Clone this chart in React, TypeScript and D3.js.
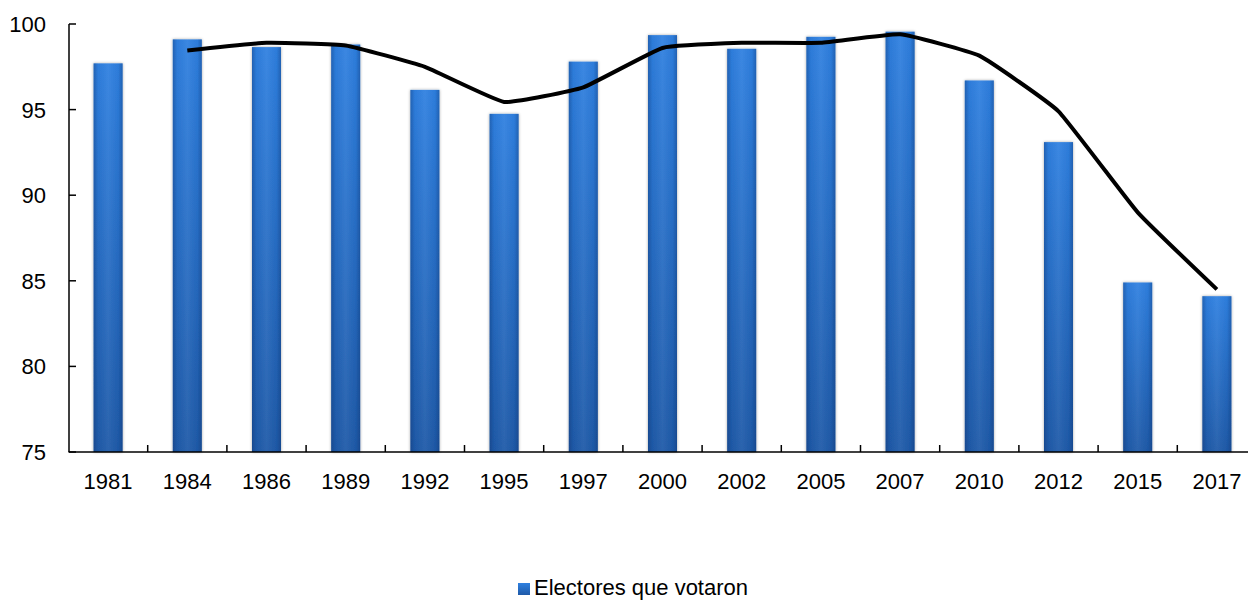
import React from "react";
import * as d3 from "d3";

const years = ["1981","1984","1986","1989","1992","1995","1997","2000","2002","2005","2007","2010","2012","2015","2017"];
const voted = [97.7, 99.1, 98.65, 98.8, 96.15, 94.75, 97.8, 99.35, 98.55, 99.25, 99.55, 96.7, 93.1, 84.9, 84.1];
const trendYears = ["1984","1986","1989","1992","1995","1997","2000","2002","2005","2007","2010","2012","2015","2017"];
const trend = [98.45, 98.9, 98.75, 97.5, 95.45, 96.3, 98.6, 98.9, 98.9, 99.4, 98.15, 94.9, 89.0, 84.5];
const yTicks = [75, 80, 85, 90, 95, 100];
const legendLabel = "Electores que votaron";

export default function App() {
  const W = 1248, H = 601;
  const x = d3.scaleBand<string>().domain(years).range([68.5, 1256.5]).paddingInner(0).paddingOuter(0);
  const y = d3.scaleLinear().domain([75, 100]).range([452, 24]);
  const bw = 29;
  const line = d3.line<number>()
    .x((_, i) => (x(trendYears[i]) as number) + x.bandwidth() / 2)
    .y((d) => y(d))
    .curve(d3.curveCardinal.tension(0.65));
  const font = "'Liberation Sans', Arial, sans-serif";
  return (
    <svg width={W} height={H} style={{ position: "absolute", left: 0, top: 0 }} fontFamily={font}>
      <defs>
        <linearGradient id="gv" x1="0" y1="0" x2="0" y2="1">
          <stop offset="0" stopColor="#2f80e0" />
          <stop offset="1" stopColor="#1f5aa8" />
        </linearGradient>
        <linearGradient id="gh" x1="0" y1="0" x2="1" y2="0">
          <stop offset="0" stopColor="#0a2a60" stopOpacity="0.35" />
          <stop offset="0.15" stopColor="#0a2a60" stopOpacity="0.05" />
          <stop offset="0.5" stopColor="#ffffff" stopOpacity="0.06" />
          <stop offset="0.85" stopColor="#0a2a60" stopOpacity="0.05" />
          <stop offset="1" stopColor="#0a2a60" stopOpacity="0.35" />
        </linearGradient>
        <filter id="sh" x="-30%" y="-5%" width="160%" height="110%">
          <feGaussianBlur in="SourceAlpha" stdDeviation="1.5" />
          <feOffset dx="0" dy="0" result="b" />
          <feComponentTransfer><feFuncA type="linear" slope="0.35" /></feComponentTransfer>
          <feMerge><feMergeNode /><feMergeNode in="SourceGraphic" /></feMerge>
        </filter>
      </defs>
      <rect width={W} height={H} fill="#fff" />
      {voted.map((v, i) => {
        const cx = (x(years[i]) as number) + x.bandwidth() / 2;
        return (
          <g key={years[i]} filter="url(#sh)">
            <rect x={cx - bw / 2} y={y(v)} width={bw} height={y(75) - y(v)} fill="url(#gv)" />
            <rect x={cx - bw / 2} y={y(v)} width={bw} height={y(75) - y(v)} fill="url(#gh)" />
          </g>
        );
      })}
      <line x1={69} x2={69} y1={y(100)} y2={y(75)} stroke="#000" strokeWidth={1.5} />
      {yTicks.map((t) => (
        <g key={t}>
          <line x1={69} x2={76} y1={y(t)} y2={y(t)} stroke="#000" strokeWidth={1.5} />
          <text x={46} y={y(t)} dy="0.36em" textAnchor="end" fontSize={22} fill="#000">{t}</text>
        </g>
      ))}
      <line x1={68.5} x2={W} y1={452} y2={452} stroke="#000" strokeWidth={1.5} />
      {years.map((yr, i) => {
        const left = x(yr) as number;
        return (
          <g key={yr}>
            {i > 0 && <line x1={left} x2={left} y1={445} y2={452} stroke="#000" strokeWidth={1.5} />}
            <text x={left + x.bandwidth() / 2} y={489} textAnchor="middle" fontSize={22} fill="#000">{yr}</text>
          </g>
        );
      })}
      <path d={line(trend) || ""} fill="none" stroke="#000" strokeWidth={4} strokeLinejoin="round" />
      <rect x={518} y={583} width={12} height={12} fill="url(#gv)" />
      <text x={534} y={595} fontSize={22} fill="#000">{legendLabel}</text>
    </svg>
  );
}
